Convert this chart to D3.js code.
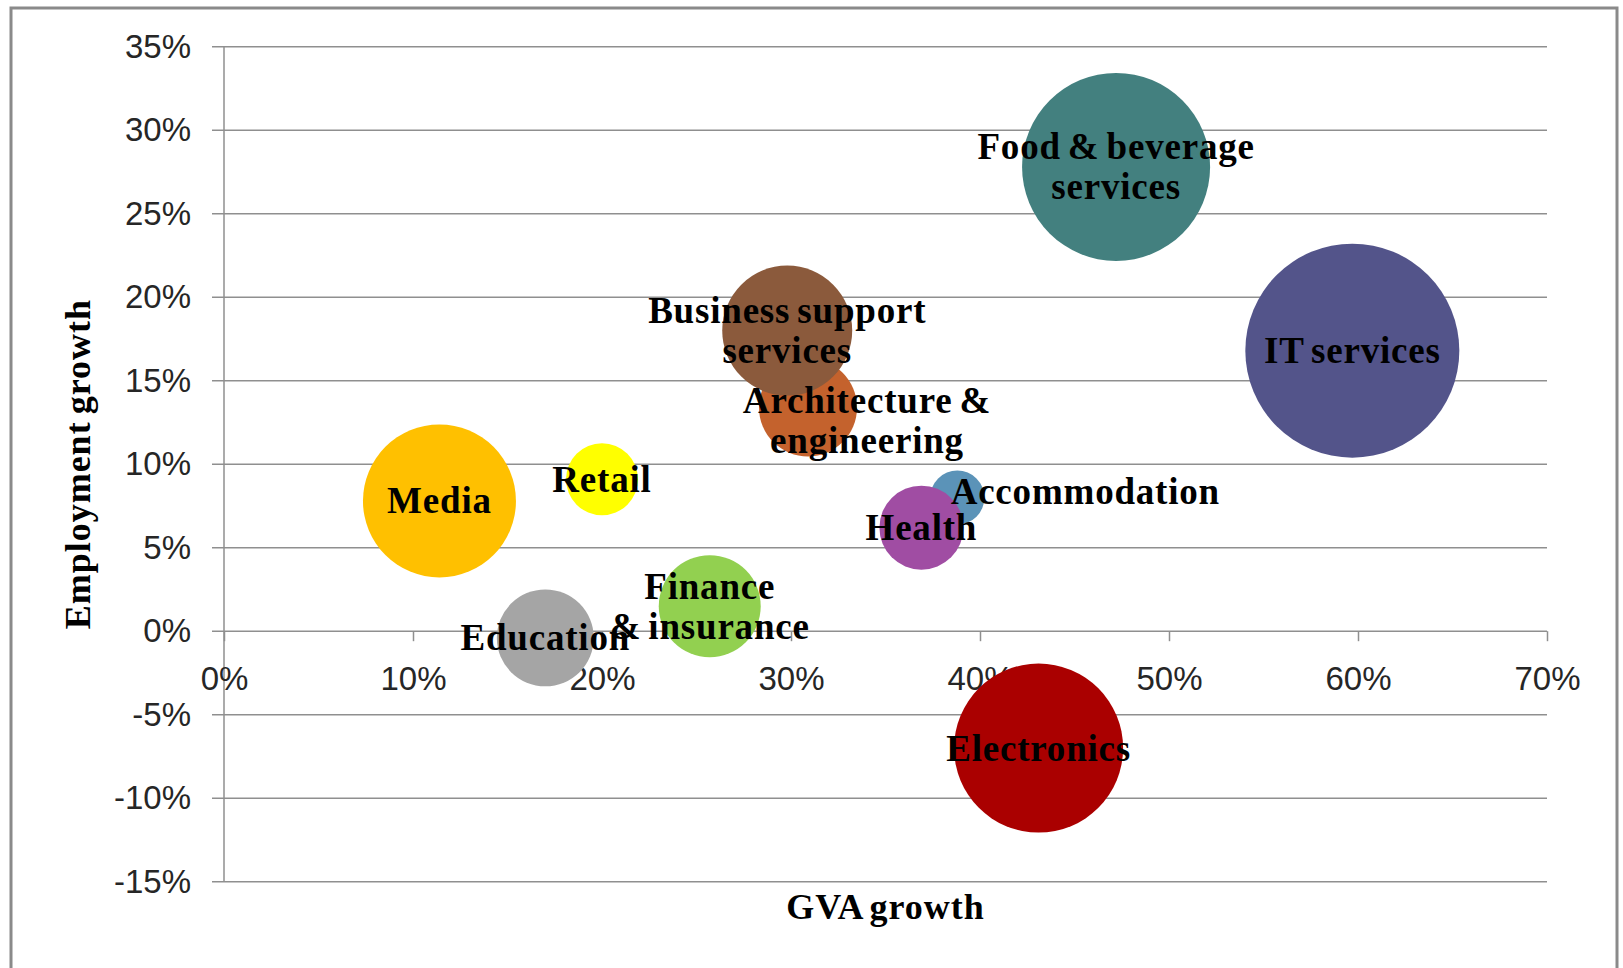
<!DOCTYPE html>
<html lang="en">
<head>
<meta charset="UTF-8">
<title>GVA growth vs employment growth</title>
<script src="https://d3js.org/d3.v7.min.js"></script>
<style>
    body { margin: 0; background: #fff; }
    #chart svg { display: block; }
    .grid line { stroke: #8f8f8f; stroke-width: 1.5px; }
    .axis text { font-family: "Liberation Sans", Arial, sans-serif; font-size: 33px; fill: #262626; }
    .axis path { display: none; }
    .axis line { stroke: #8f8f8f; stroke-width: 1.5px; }
    .title { font-family: "Liberation Serif", "Times New Roman", serif; font-weight: bold; font-size: 36px; letter-spacing: 1px; word-spacing: -3px; fill: #000; }
    .bubble-label { font-family: "Liberation Serif", "Times New Roman", serif; font-weight: bold; font-size: 37px; letter-spacing: 0.8px; word-spacing: -3px; fill: #000; }
</style>
</head>
<body>
<div id="chart"></div>

<script>
// sectors, in drawing order (later ones sit on top)
var sectors = ["Architecture & engineering", "Business support services", "Food & beverage services",
    "IT services", "Media", "Retail", "Accommodation", "Health", "Finance & insurance",
    "Education", "Electronics"];
// label text as it wraps in the chart
var labelLines = [["Architecture &", "engineering"], ["Business support", "services"], ["Food & beverage", "services"],
    ["IT services"], ["Media"], ["Retail"], ["Accommodation"], ["Health"], ["Finance", "& insurance"],
    ["Education"], ["Electronics"]];
var gvaGrowth = [0.309, 0.298, 0.472, 0.597, 0.114, 0.200, 0.388, 0.369, 0.257, 0.170, 0.431];
var empGrowth = [0.134, 0.180, 0.278, 0.168, 0.078, 0.091, 0.080, 0.062, 0.015, -0.004, -0.070];
var bubbleSize = [21.0, 36.9, 77.2, 100, 51.1, 11.3, 6.4, 15.4, 22.7, 20.5, 62.4];
var colors = ["#c4622d", "#8b5a3c", "#43807f", "#53548a", "#ffc000", "#ffff00", "#5b93b8",
    "#a04da3", "#92d050", "#a5a5a5", "#aa0000"];

var xTicks = [0, 0.1, 0.2, 0.3, 0.4, 0.5, 0.6, 0.7];
var yTicks = [-0.15, -0.10, -0.05, 0, 0.05, 0.10, 0.15, 0.20, 0.25, 0.30, 0.35];

// labels that were dragged off-centre in the original
var labelShift = { "Architecture & engineering": [59, 13], "Accommodation": [128, -6] };

var width = 1623, height = 968;
var plot = { left: 224, right: 1547, top: 46.7, bottom: 881.7 };

var svg = d3.select('#chart').append('svg')
    .attr('width', width)
    .attr('height', height);

// outer frame
svg.append('rect')
    .attr('x', 11).attr('y', 8)
    .attr('width', 1606).attr('height', 990)
    .attr('fill', 'none').attr('stroke', '#8a8a8a').attr('stroke-width', 3);

var x = d3.scaleLinear().domain([0, 0.7]).range([plot.left, plot.right]);
var y = d3.scaleLinear().domain([-0.15, 0.35]).range([plot.bottom, plot.top]);
var r = d3.scaleSqrt().domain([0, 100]).range([0, 107]);

// excel style: plain hyphen for negatives
var pct = function (d) { return Math.round(d * 100) + '%'; };

// horizontal gridlines (with the short outside tick)
svg.append('g').attr('class', 'grid')
    .selectAll('line').data(yTicks).join('line')
    .attr('x1', plot.left - 12).attr('x2', plot.right)
    .attr('y1', function (d) { return y(d); })
    .attr('y2', function (d) { return y(d); });

// vertical axis line
svg.append('line')
    .attr('x1', plot.left).attr('x2', plot.left)
    .attr('y1', plot.top).attr('y2', plot.bottom)
    .attr('stroke', '#8f8f8f').attr('stroke-width', 1.5);

// y axis labels
svg.append('g').attr('class', 'axis')
    .attr('transform', 'translate(' + plot.left + ',0)')
    .call(d3.axisLeft(y).tickValues(yTicks).tickFormat(pct).tickSize(0).tickPadding(33));

// x axis sits on the 0% line
svg.append('g').attr('class', 'axis')
    .attr('transform', 'translate(0,' + y(0) + ')')
    .call(d3.axisBottom(x).tickValues(xTicks).tickFormat(pct).tickSizeInner(10).tickSizeOuter(0).tickPadding(25));

// axis titles
svg.append('text').attr('class', 'title')
    .attr('x', (plot.left + plot.right) / 2).attr('y', 919)
    .attr('text-anchor', 'middle')
    .text('GVA growth');

svg.append('text').attr('class', 'title')
    .attr('transform', 'translate(90,' + ((plot.top + plot.bottom) / 2) + ') rotate(-90)')
    .attr('text-anchor', 'middle')
    .text('Employment growth');

var data = sectors.map(function (s, i) {
    return { name: s, lines: labelLines[i], gva: gvaGrowth[i], emp: empGrowth[i], size: bubbleSize[i], color: colors[i] };
});

svg.append('g').selectAll('circle').data(data).join('circle')
    .attr('cx', function (d) { return x(d.gva); })
    .attr('cy', function (d) { return y(d.emp); })
    .attr('r', function (d) { return r(d.size); })
    .attr('fill', function (d) { return d.color; });

var lineGap = 40;
var labels = svg.append('g').selectAll('text').data(data).join('text')
    .attr('class', 'bubble-label')
    .attr('text-anchor', 'middle');

labels.each(function (d) {
    var shift = labelShift[d.name] || [0, 0];
    var cx = x(d.gva) + shift[0], cy = y(d.emp) + shift[1];
    var n = d.lines.length;
    d3.select(this).selectAll('tspan').data(d.lines).join('tspan')
        .attr('x', cx)
        .attr('y', function (t, i) { return cy + 12.5 + (i - (n - 1) / 2) * lineGap; })
        .text(function (t) { return t; });
});
</script>
</body>
</html>
